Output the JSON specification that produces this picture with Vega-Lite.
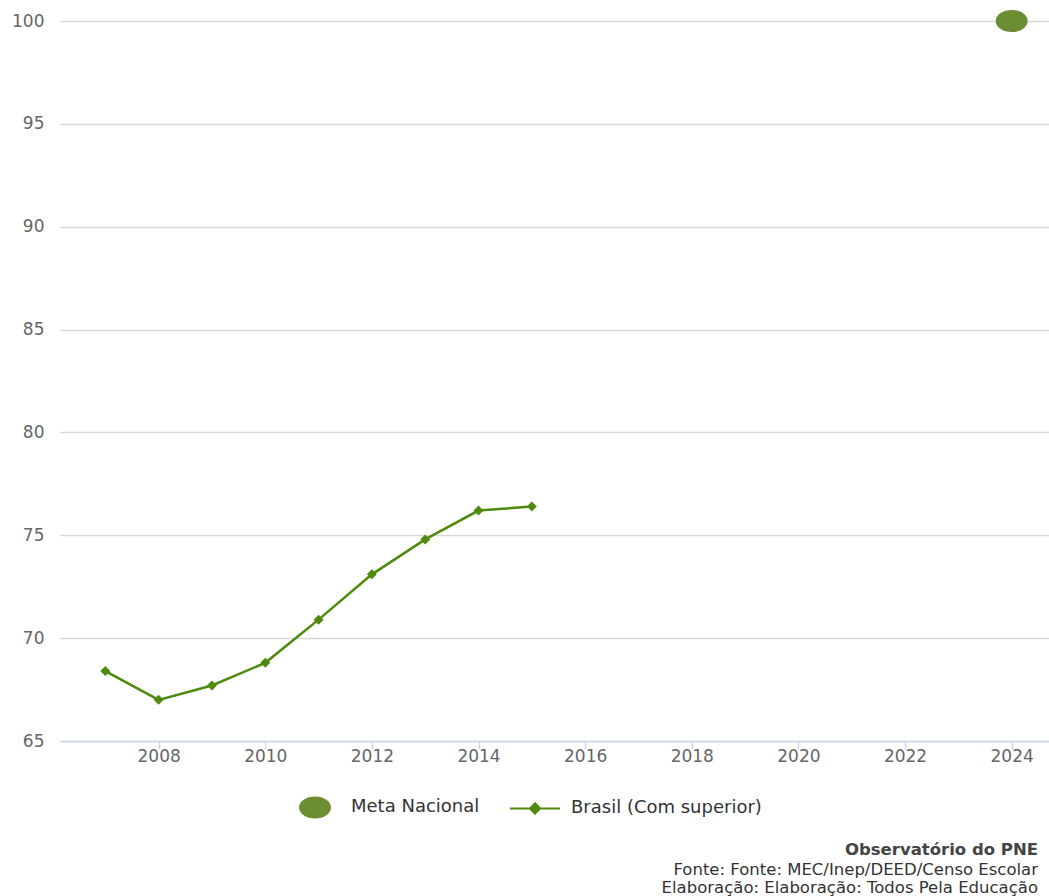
{
  "$schema": "https://vega.github.io/schema/vega-lite/v6.json",
  "width": 989,
  "height": 720,
  "autosize": "none",
  "padding": {"left": 60, "top": 21, "right": 0, "bottom": 155},
  "background": "white",
  "config": {
    "font": "DejaVu Sans",
    "view": {"stroke": null}
  },
  "title": {
    "text": "Observatório do PNE",
    "subtitle": ["Fonte: Fonte: MEC/Inep/DEED/Censo Escolar", "Elaboração: Elaboração: Todos Pela Educação"],
    "orient": "bottom",
    "anchor": "end",
    "frame": "group",
    "offset": 23,
    "dx": -11,
    "font": "DejaVu Sans",
    "fontSize": 16.5,
    "fontWeight": "bold",
    "color": "#444444",
    "subtitleFont": "DejaVu Sans",
    "subtitleFontSize": 16.5,
    "subtitleColor": "#333333",
    "subtitleLineHeight": 18,
    "subtitlePadding": 3
  },
  "data": {
    "values": [
      {"ano": 2007, "valor": 68.4, "serie": "Brasil (Com superior)"},
      {"ano": 2008, "valor": 67.0, "serie": "Brasil (Com superior)"},
      {"ano": 2009, "valor": 67.7, "serie": "Brasil (Com superior)"},
      {"ano": 2010, "valor": 68.8, "serie": "Brasil (Com superior)"},
      {"ano": 2011, "valor": 70.9, "serie": "Brasil (Com superior)"},
      {"ano": 2012, "valor": 73.1, "serie": "Brasil (Com superior)"},
      {"ano": 2013, "valor": 74.8, "serie": "Brasil (Com superior)"},
      {"ano": 2014, "valor": 76.2, "serie": "Brasil (Com superior)"},
      {"ano": 2015, "valor": 76.4, "serie": "Brasil (Com superior)"},
      {"ano": 2024, "valor": 100, "serie": "Meta Nacional"}
    ]
  },
  "encoding": {
    "x": {
      "field": "ano",
      "type": "quantitative",
      "scale": {"domain": [2006.15, 2024.7], "nice": false, "zero": false},
      "axis": {
        "title": null,
        "values": [2008, 2010, 2012, 2014, 2016, 2018, 2020, 2022, 2024],
        "format": "d",
        "grid": false,
        "domainColor": "#ccd6eb",
        "domainWidth": 1.5,
        "tickColor": "#ccd6eb",
        "tickWidth": 1.5,
        "tickSize": 8,
        "labelPadding": -1,
        "labelFontSize": 17,
        "labelColor": "#666666",
        "labelFont": "DejaVu Sans"
      }
    },
    "y": {
      "field": "valor",
      "type": "quantitative",
      "scale": {"domain": [65, 100], "nice": false, "zero": false},
      "axis": {
        "title": null,
        "values": [65, 70, 75, 80, 85, 90, 95, 100],
        "domain": false,
        "ticks": false,
        "gridColor": "#d9d9d9",
        "gridWidth": 1.5,
        "labelPadding": 16,
        "labelFontSize": 17,
        "labelColor": "#666666",
        "labelFont": "DejaVu Sans"
      }
    },
    "color": {
      "field": "serie",
      "type": "nominal",
      "scale": {
        "domain": ["Meta Nacional", "Brasil (Com superior)"],
        "range": ["#6b8e33", "#4e8a0e"]
      },
      "legend": {
        "title": null,
        "orient": "none",
        "direction": "horizontal",
        "legendX": 246,
        "legendY": 777,
        "padding": 0,
        "symbolSize": 256,
        "symbolStrokeWidth": 2,
        "labelOffset": 27,
        "columnPadding": 26,
        "labelLimit": 0,
        "labelFontSize": 18,
        "labelColor": "#333333",
        "labelFont": "DejaVu Sans",
        "encode": {
          "symbols": {
            "update": {
              "shape": {"signal": "datum.value === 'Meta Nacional' ? 'M-1,0A1,0.69 0 1,0 1,0A1,0.69 0 1,0 -1,0Z' : 'M-1.5625,0L1.5625,0M0,-0.32L0.32,0L0,0.32L-0.32,0Z'"},
              "size": {"value": 1024},
              "fill": {"signal": "datum.value === 'Meta Nacional' ? '#6b8e33' : '#4e8a0e'"},
              "stroke": {"signal": "datum.value === 'Meta Nacional' ? '#6b8e33' : '#4e8a0e'"},
              "strokeWidth": {"signal": "datum.value === 'Meta Nacional' ? 0 : 2"},
              "opacity": {"value": 1}
            }
          }
        }
      }
    }
  },
  "layer": [
    {
      "transform": [{"filter": "datum.serie === 'Brasil (Com superior)'"}],
      "mark": {
        "type": "line",
        "strokeWidth": 2.5,
        "point": {"shape": "diamond", "size": 100, "filled": true, "opacity": 1}
      }
    },
    {
      "transform": [{"filter": "datum.serie === 'Meta Nacional'"}],
      "mark": {
        "type": "point",
        "shape": "M-1,0A1,0.69 0 1,0 1,0A1,0.69 0 1,0 -1,0Z",
        "size": 1024,
        "filled": true,
        "opacity": 1,
        "clip": false
      }
    }
  ]
}
